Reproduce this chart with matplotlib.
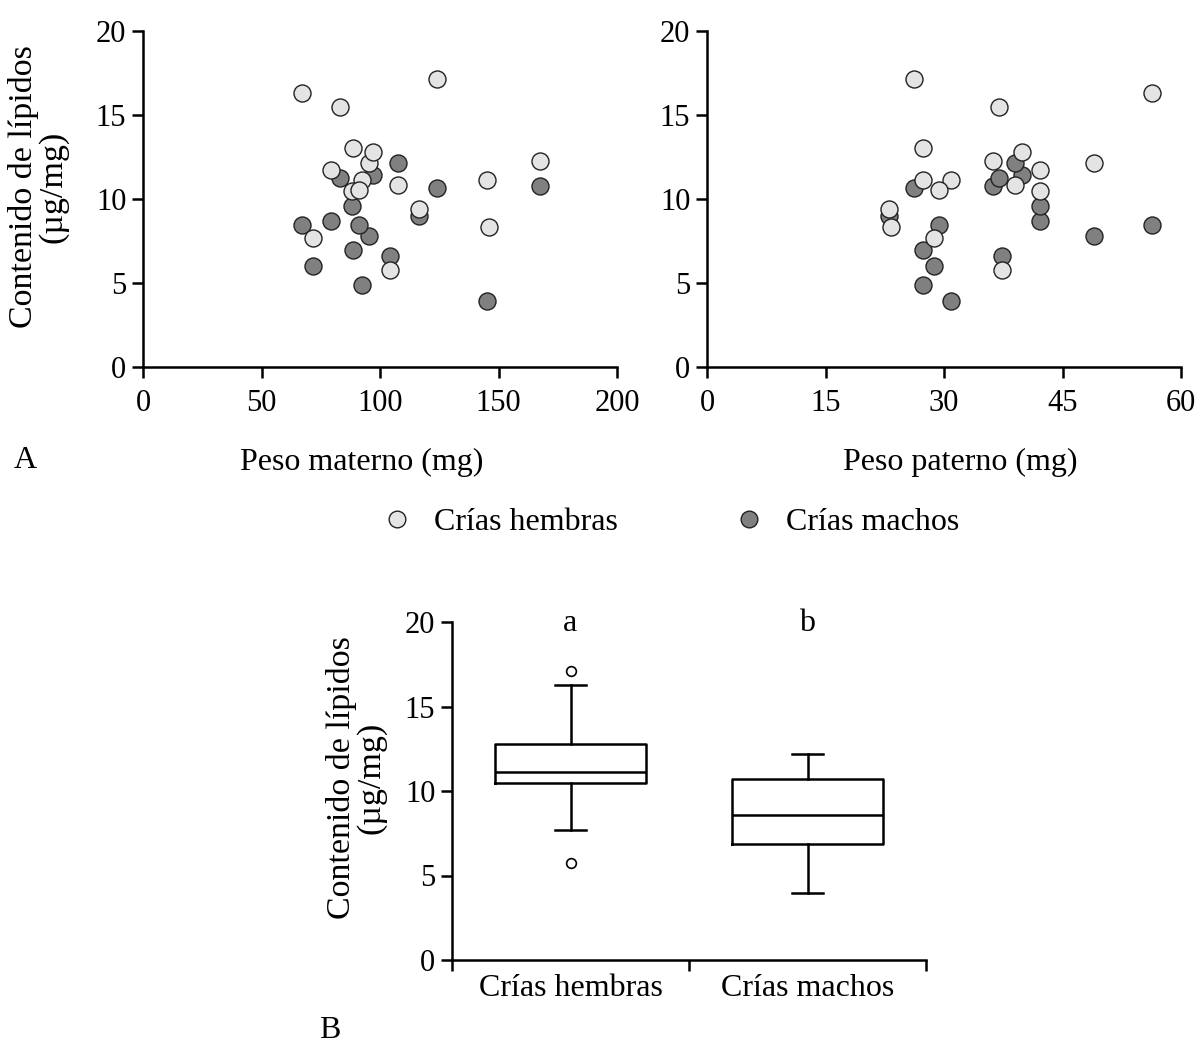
import numpy as np
import matplotlib
matplotlib.use("Agg")
import matplotlib.pyplot as plt
from matplotlib.lines import Line2D

plt.rcParams['font.family'] = ['Liberation Serif', 'DejaVu Serif']

# one row per family: mother weight, father weight, lipids of female / male offspring
peso_materno = [67.2, 124.1, 167.6, 95.3, 145.1, 92.3, 83.3, 88.8, 97.0,
                79.4, 107.8, 116.6, 145.9, 71.8, 104.4, 88.2, 91.0]
peso_paterno = [56.3, 26.2, 36.2, 49.0, 30.9, 27.35, 37.0, 27.3, 39.9,
                42.1, 39.0, 23.0, 23.3, 28.75, 37.4, 42.1, 29.4]
lip_hembras = [16.28, 17.12, 12.24, 12.15, 11.12, 11.15, 15.48, 13.06, 12.81,
               11.74, 10.83, 9.39, 8.32, 7.70, 5.76, 10.47, 10.53]
lip_machos = [8.46, 10.65, 10.78, 7.81, 3.94, 4.88, 11.24, 6.94, 11.41,
              8.71, 12.16, 8.98, np.nan, 6.02, 6.60, 9.60, 8.46]

grupos = ['Crías hembras', 'Crías machos']
letras = ['a', 'b']

c_hem = '#e4e4e4'
c_mac = '#808080'
c_edge = '#222222'
fs = 22      # tick labels
fl = 23      # axis titles, legend
fy = 24.5    # y titles
lw = 1.8

W, H = 1201, 1048
fig = plt.figure(figsize=(W / 100, H / 100), dpi=100)


def style(ax):
    for s in ['top', 'right']:
        ax.spines[s].set_visible(False)
    for s in ['left', 'bottom']:
        ax.spines[s].set_linewidth(lw)
    ax.tick_params(direction='out', length=8, width=lw, labelsize=fs)
    ax.tick_params(axis='x', pad=8)
    ax.tick_params(axis='y', pad=4)


axA = fig.add_axes([143 / W, 1 - 367 / H, 474 / W, 336 / H])
axB = fig.add_axes([707 / W, 1 - 367 / H, 474 / W, 336 / H])
axC = fig.add_axes([452 / W, 1 - 960 / H, 474 / W, 338 / H])

pm = np.array(peso_materno)
pp = np.array(peso_paterno)
lh = np.array(lip_hembras)
lm = np.array(lip_machos)

for ax, x, xlim, xt in [(axA, pm, 200, [0, 50, 100, 150, 200]),
                        (axB, pp, 60, [0, 15, 30, 45, 60])]:
    ax.scatter(x, lm, s=150, c=c_mac, edgecolors=c_edge, linewidths=1.0, zorder=3, clip_on=False)
    ax.scatter(x, lh, s=150, c=c_hem, edgecolors=c_edge, linewidths=1.0, zorder=4, clip_on=False)
    ax.set_xlim(0, xlim)
    ax.set_ylim(0, 20)
    ax.set_xticks(xt)
    ax.set_yticks([0, 5, 10, 15, 20])
    style(ax)

fig.text(38 / W, 1 - 187 / H, 'Contenido de lípidos\n(µg/mg)', rotation=90,
         ha='center', va='center', multialignment='center', fontsize=fy, linespacing=0.95)
fig.text(362 / W, 1 - 462 / H, 'Peso materno (mg)', ha='center', va='center', fontsize=fl)
fig.text(960 / W, 1 - 462 / H, 'Peso paterno (mg)', ha='center', va='center', fontsize=fl)
fig.text(25 / W, 1 - 460 / H, 'A', ha='center', va='center', fontsize=fl)

# legend
handles = [Line2D([], [], ls='none', marker='o', ms=12, mfc=c_hem, mec=c_edge, mew=1.0),
           Line2D([], [], ls='none', marker='o', ms=12, mfc=c_mac, mec=c_edge, mew=1.0)]
fig.legend(handles, grupos, loc='center', bbox_to_anchor=(670 / W, 1 - 522 / H), ncol=2,
           frameon=False, fontsize=fl, handlelength=1.0, handletextpad=0.65,
           columnspacing=3.6)

# box plot
datos = [lh[~np.isnan(lh)], lm[~np.isnan(lm)]]
kw = dict(color='black', linewidth=lw)
axC.boxplot(datos, positions=[1, 2], widths=0.64, whis=1.5, capwidths=0.13,
            boxprops=kw, medianprops=kw, whiskerprops=kw, capprops=kw,
            flierprops=dict(marker='o', markersize=7, markerfacecolor='white',
                            markeredgecolor='black', markeredgewidth=1.2))
axC.set_xlim(0.5, 2.5)
axC.set_ylim(0, 20)
axC.set_yticks([0, 5, 10, 15, 20])
axC.set_xticks([0.5, 1.5, 2.5])
axC.set_xticklabels([])
axC.set_xticks([1, 2], minor=True)
axC.set_xticklabels(grupos, minor=True)
style(axC)
axC.tick_params(axis='x', which='minor', length=0, labelsize=fl, pad=10)
for i, l in enumerate(letras):
    axC.text(i + 1, 19.45, l, ha='center', va='baseline', fontsize=fl)

fig.text(356 / W, 1 - 778 / H, 'Contenido de lípidos\n(µg/mg)', rotation=90,
         ha='center', va='center', multialignment='center', fontsize=fy, linespacing=0.95)
fig.text(330 / W, 1 - 1030 / H, 'B', ha='center', va='center', fontsize=fl)

fig.savefig('out.png', dpi=100)
